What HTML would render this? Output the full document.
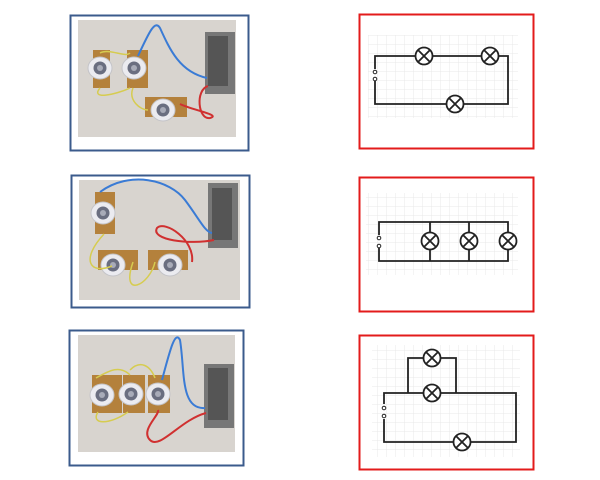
<!DOCTYPE html>
<html><head><style>html,body{margin:0;padding:0;background:#fff}svg{display:block}</style></head>
<body>
<svg width="600" height="480" viewBox="0 0 600 480" xmlns="http://www.w3.org/2000/svg">
<defs>
<pattern id="g" width="9" height="9" patternUnits="userSpaceOnUse">
<path d="M9 0V9H0" fill="none" stroke="#e2e2e2" stroke-width="0.7"/>
</pattern>
<g id="lamp"><circle r="8.5" fill="#fff" stroke="#222" stroke-width="1.8"/><path d="M-6-6L6 6M6-6L-6 6" stroke="#222" stroke-width="1.8"/></g>
<g id="bulb"><ellipse rx="12" ry="11" fill="#ebebf0" stroke="#c4c4c8"/><circle r="6.5" fill="#6a6e80"/><circle r="3" fill="#a8abb8"/></g>
</defs>

<!-- Photo 1 -->
<rect x="70.5" y="15.5" width="178" height="135" fill="#fff" stroke="#3b5b8c" stroke-width="2"/>
<rect x="78" y="20" width="158" height="117" fill="#d8d4cf"/>
<rect x="205" y="32" width="30" height="62" fill="#777"/><rect x="208" y="36" width="20" height="50" fill="#555"/>
<rect x="93" y="50" width="17" height="38" fill="#b4813c"/><rect x="127" y="50" width="21" height="38" fill="#b4813c"/>
<rect x="145" y="97" width="42" height="20" fill="#b4813c"/>
<use href="#bulb" x="100" y="68"/><use href="#bulb" x="134" y="68"/><use href="#bulb" x="163" y="110"/>
<path d="M138 56C150 30 155 20 160 28C170 50 180 72 207 78" fill="none" stroke="#3a7bd5" stroke-width="2"/>
<path d="M208 86C195 90 198 120 210 118C222 115 192 110 180 104" fill="none" stroke="#d03030" stroke-width="2"/>
<path d="M100 53C110 48 125 58 130 53M100 88C90 100 115 95 130 88M133 88C128 100 140 110 148 110" fill="none" stroke="#d6cc50" stroke-width="1.5"/>

<!-- Photo 2 -->
<rect x="71.5" y="175.5" width="178" height="132" fill="#fff" stroke="#3b5b8c" stroke-width="2"/>
<rect x="79" y="180" width="161" height="120" fill="#d8d4cf"/>
<rect x="208" y="183" width="30" height="65" fill="#777"/><rect x="212" y="188" width="20" height="52" fill="#555"/>
<rect x="95" y="192" width="20" height="42" fill="#b4813c"/>
<rect x="98" y="250" width="40" height="20" fill="#b4813c"/><rect x="148" y="250" width="40" height="20" fill="#b4813c"/>
<use href="#bulb" x="103" y="213"/><use href="#bulb" x="113" y="265"/><use href="#bulb" x="170" y="265"/>
<path d="M100 192C130 170 170 180 185 200C200 220 205 232 212 233" fill="none" stroke="#3a7bd5" stroke-width="2"/>
<path d="M214 240C190 245 150 240 157 228C165 220 195 240 192 262" fill="none" stroke="#d03030" stroke-width="2"/>
<path d="M104 234C80 260 90 275 112 266M133 262C120 300 150 285 155 262" fill="none" stroke="#d6cc50" stroke-width="1.5"/>

<!-- Photo 3 -->
<rect x="69.5" y="330.5" width="174" height="135" fill="#fff" stroke="#3b5b8c" stroke-width="2"/>
<rect x="78" y="335" width="157" height="117" fill="#d8d4cf"/>
<rect x="204" y="364" width="30" height="64" fill="#777"/><rect x="208" y="368" width="20" height="52" fill="#555"/>
<rect x="92" y="375" width="30" height="38" fill="#b4813c"/><rect x="123" y="375" width="22" height="38" fill="#b4813c"/><rect x="148" y="375" width="22" height="38" fill="#b4813c"/>
<use href="#bulb" x="102" y="395"/><use href="#bulb" x="131" y="394"/><use href="#bulb" x="158" y="394"/>
<path d="M162 380C170 350 175 330 180 340C185 370 180 410 205 408" fill="none" stroke="#3a7bd5" stroke-width="2"/>
<path d="M206 413C180 420 160 450 150 440C140 430 160 415 158 410" fill="none" stroke="#d03030" stroke-width="2"/>
<path d="M96 378C110 370 120 365 130 375M130 370C140 360 150 365 155 378M98 412C90 425 110 425 128 412" fill="none" stroke="#d6cc50" stroke-width="1.5"/>

<!-- Diagram 1 -->
<rect x="359.5" y="14.5" width="174" height="134" fill="#fff" stroke="#e31b1b" stroke-width="2"/>
<rect x="368" y="35" width="150" height="83" fill="url(#g)"/>
<path d="M375 69V56H508V104H375V81" fill="none" stroke="#222" stroke-width="1.8"/>
<circle cx="375" cy="72" r="1.8" fill="#fff" stroke="#222"/><circle cx="375" cy="79" r="1.8" fill="#fff" stroke="#222"/>
<use href="#lamp" x="424" y="56"/><use href="#lamp" x="490" y="56"/><use href="#lamp" x="455" y="104"/>

<!-- Diagram 2 -->
<rect x="359.5" y="177.5" width="174" height="134" fill="#fff" stroke="#e31b1b" stroke-width="2"/>
<rect x="366" y="193" width="152" height="82" fill="url(#g)"/>
<path d="M379 235V222H508V261H379V248" fill="none" stroke="#222" stroke-width="1.8"/>
<path d="M430 222V261M469 222V261" fill="none" stroke="#222" stroke-width="1.8"/>
<circle cx="379" cy="238" r="1.8" fill="#fff" stroke="#222"/><circle cx="379" cy="246" r="1.8" fill="#fff" stroke="#222"/>
<use href="#lamp" x="430" y="241"/><use href="#lamp" x="469" y="241"/><use href="#lamp" x="508" y="241"/>

<!-- Diagram 3 -->
<rect x="359.5" y="335.5" width="174" height="134" fill="#fff" stroke="#e31b1b" stroke-width="2"/>
<rect x="372" y="345" width="148" height="112" fill="url(#g)"/>
<path d="M384 404V393H516V442H384V419" fill="none" stroke="#222" stroke-width="1.8"/>
<path d="M408 393V358H456V393" fill="none" stroke="#222" stroke-width="1.8"/>
<circle cx="384" cy="408" r="1.8" fill="#fff" stroke="#222"/><circle cx="384" cy="416" r="1.8" fill="#fff" stroke="#222"/>
<use href="#lamp" x="432" y="358"/><use href="#lamp" x="432" y="393"/><use href="#lamp" x="462" y="442"/>
</svg>
</body></html>
